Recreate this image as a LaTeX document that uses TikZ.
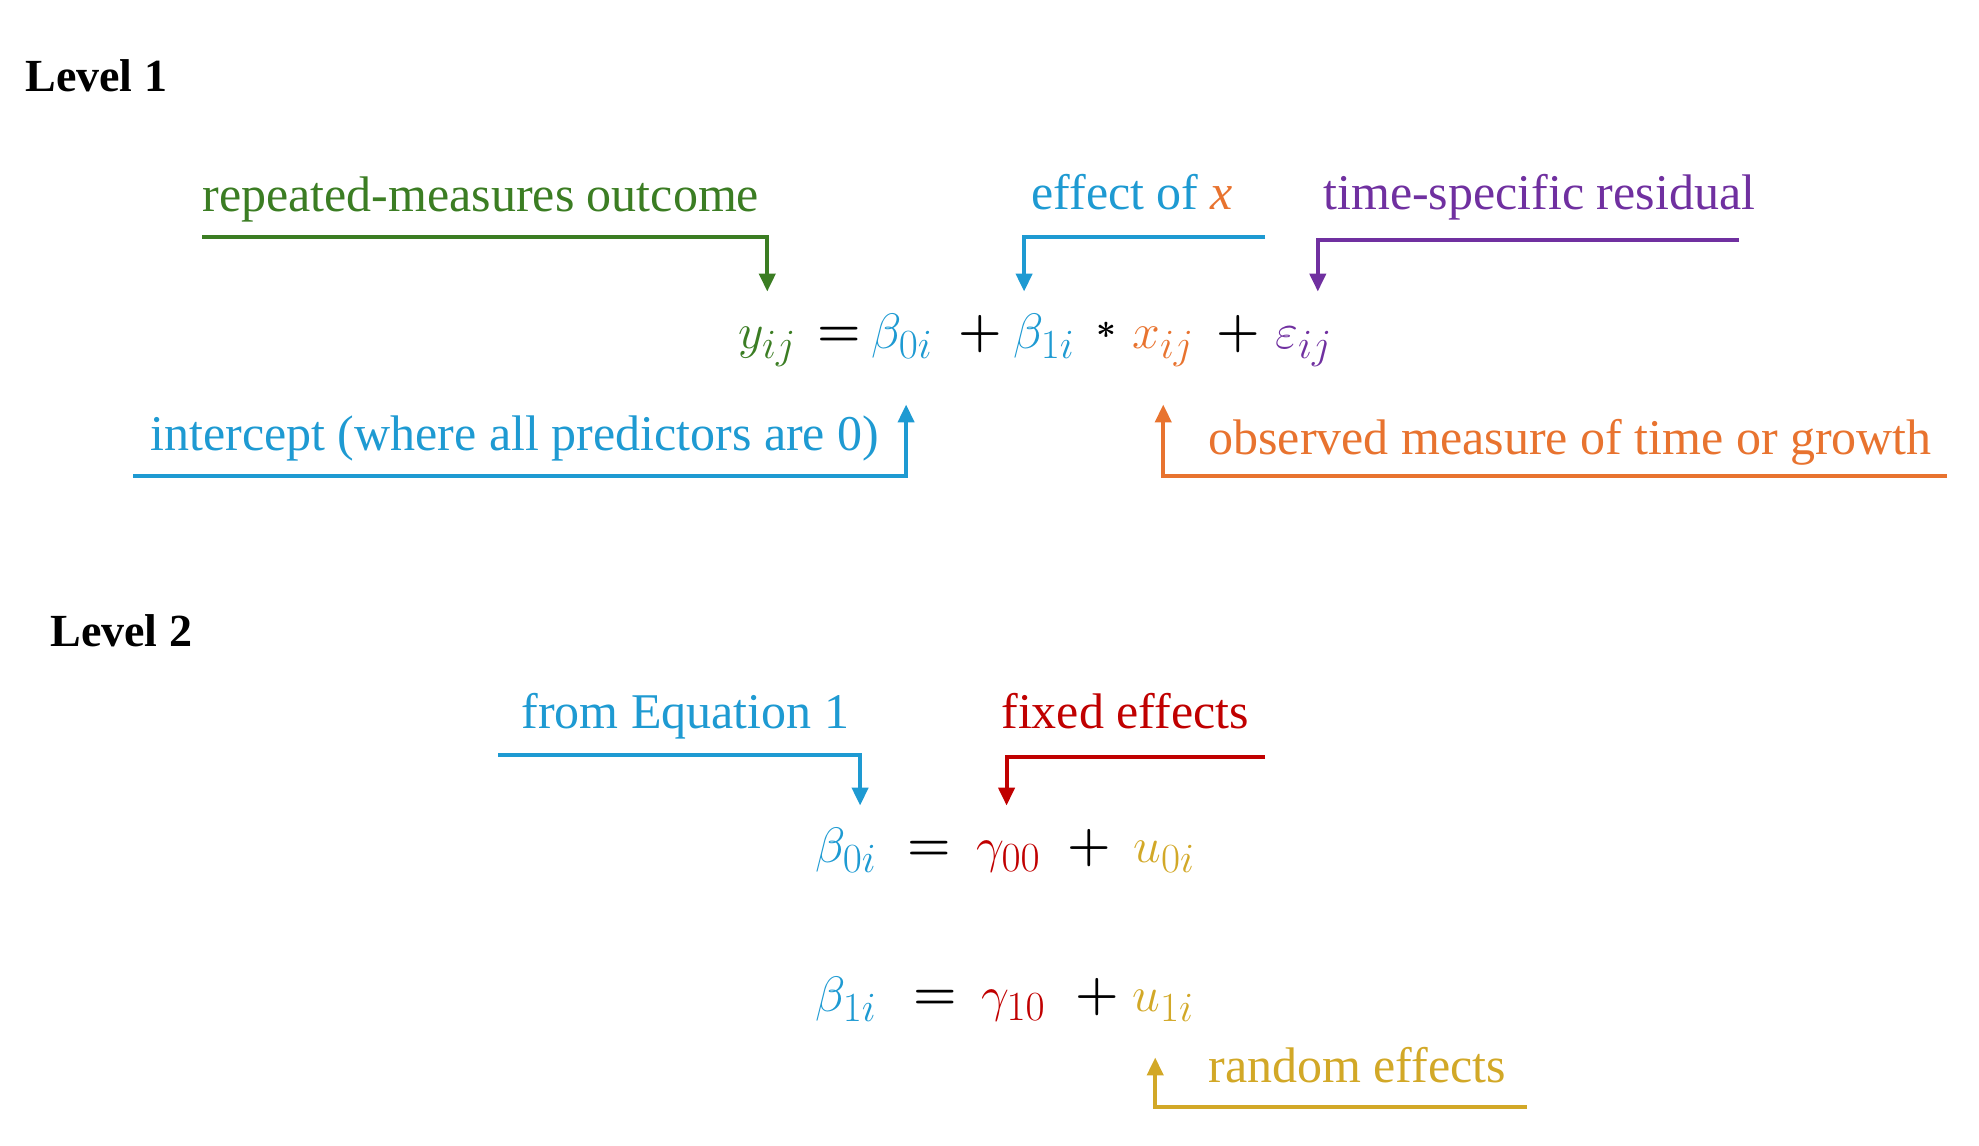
\documentclass[tikz,border=0pt]{standalone}
\usepackage{fontspec}
\setmainfont{Liberation Serif}
\usepackage{amsmath}
\DeclareMathSizes{29}{29}{22}{17}
\usetikzlibrary{arrows.meta}
\definecolor{lvgreen}{HTML}{3B7D23}
\definecolor{lvblue}{HTML}{1E9AD2}
\definecolor{lvorange}{HTML}{E8732F}
\definecolor{lvpurple}{HTML}{7030A0}
\definecolor{lvred}{HTML}{C00000}
\definecolor{lvgold}{HTML}{D2A827}

\begin{document}
\begin{tikzpicture}[x=0.5pt,y=-0.5pt,
	heading/.style={anchor=west,inner sep=0pt,font=\bfseries\fontsize{23}{28}\selectfont},
	note/.style={anchor=west,inner sep=0pt,text height=17pt,text depth=5pt,font=\fontsize{25}{30}\selectfont},
	term/.style={anchor=base west,inner sep=0pt,text height=28pt,text depth=28pt,font=\fontsize{29}{34}\selectfont},
	op/.style={anchor=base,inner sep=0pt,font=\fontsize{24}{28}\selectfont\boldmath},
	pointer/.style={line width=2pt,-{Triangle[length=9pt,width=8pt]}}]
	\useasboundingbox (0,0) rectangle (1979,1145);

	% level 1
	\node[heading] (lev1) at (25,76) {Level 1};
	\node[term,text=lvgreen] (yij) at (738,348) {$y_{ij}$};
	\node[op] (eqA) at (839,346) {$=$};
	\node[term,text=lvblue] (b0) at (871,348) {$\beta_{0i}$};
	\node[op] (plA) at (980,346) {$+$};
	\node[term,text=lvblue] (b1) at (1013,348) {$\beta_{1i}$};
	\node[op,font=\fontsize{18}{20}\selectfont\boldmath] (star) at (1106,338) {$\ast$};
	\node[term,text=lvorange] (xij) at (1132,348) {$x_{ij}$};
	\node[op] (plB) at (1238,346) {$+$};
	\node[term,text=lvpurple] (eps) at (1275,348) {$\varepsilon_{ij}$};

	\node[note,text=lvgreen] (outcome) at (202,199) {repeated-measures outcome};
	\node[note,text=lvblue] (effect) at (1031,197) {effect of \textcolor{lvorange}{\textit{x}}};
	\node[note,text=lvpurple] (resid) at (1323,197) {time-specific residual};
	\node[note,text=lvblue] (icept) at (150,438) {intercept (where all predictors are 0)};
	\node[note,text=lvorange] (timeobs) at (1208,442) {observed measure of time or growth};

	\coordinate (outcomeS) at (202,237);
	\coordinate (effectS) at (1265,237);
	\coordinate (residS) at (1739,240);
	\coordinate (iceptS) at (133,476);
	\coordinate (timeobsS) at (1947,476);

	\draw[pointer,lvgreen] (outcomeS) -| (yij.north);
	\draw[pointer,lvblue] (effectS) -| ([xshift=-10pt]b1.north);
	\draw[pointer,lvpurple] (residS) -| ([xshift=7pt]eps.north);
	\draw[pointer,lvblue] (iceptS) -| ([xshift=2pt]b0.south);
	\draw[pointer,lvorange] (timeobsS) -| (xij.south);

	% level 2
	\node[heading] (lev2) at (50,631) {Level 2};
	\node[term,text=lvblue] (b0b) at (815,862) {$\beta_{0i}$};
	\node[op] (eqB) at (929,860) {$=$};
	\node[term,text=lvred] (g00) at (976,862) {$\gamma_{00}$};
	\node[op] (plC) at (1089,860) {$+$};
	\node[term,text=lvgold] (u0) at (1133,862) {$u_{0i}$};

	\node[term,text=lvblue] (b1b) at (815,1011) {$\beta_{1i}$};
	\node[op] (eqC) at (935,1009) {$=$};
	\node[term,text=lvred] (g10) at (981,1011) {$\gamma_{10}$};
	\node[op] (plD) at (1097,1009) {$+$};
	\node[term,text=lvgold] (u1) at (1132,1011) {$u_{1i}$};

	\node[note,text=lvblue] (fromeq) at (521,716) {from Equation 1};
	\node[note,text=lvred] (fixed) at (1001,716) {fixed effects};
	\node[note,text=lvgold] (random) at (1208,1070) {random effects};

	\coordinate (fromeqS) at (498,755);
	\coordinate (fixedS) at (1265,757);
	\coordinate (randomS) at (1527,1107);

	\draw[pointer,lvblue] (fromeqS) -| ([xshift=7pt]b0b.north);
	\draw[pointer,lvred] (fixedS) -| ([xshift=-1pt]g00.north);
	\draw[pointer,lvgold] (randomS) -| ([xshift=-4pt,yshift=5pt]u1.south);
\end{tikzpicture}
\end{document}
